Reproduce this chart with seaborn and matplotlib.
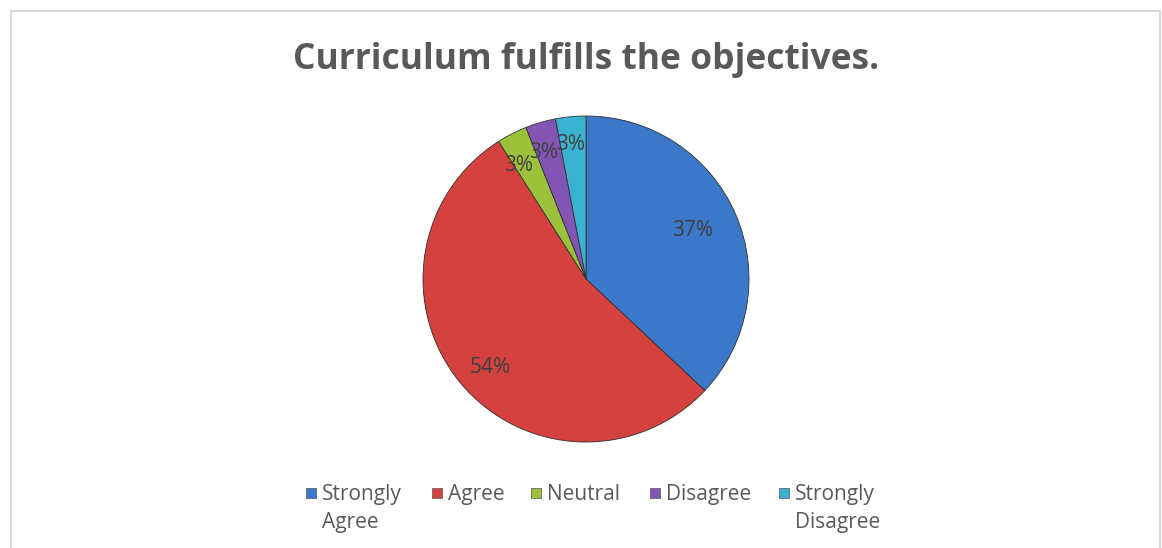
import matplotlib
matplotlib.use("Agg")
import matplotlib.pyplot as plt
import matplotlib.patches as mpatches
import numpy as np
import seaborn as sns

sns.set_theme(style="white")
plt.rcParams["font.family"] = ["Open Sans", "DejaVu Sans"]

# data
categories = ["Strongly\nAgree", "Agree", "Neutral", "Disagree", "Strongly\nDisagree"]
shares = [37, 54, 3, 3, 3]
colors = ["#3b78c9", "#d4413f", "#9cc23c", "#8255b5", "#3bb3d0"]

W, H = 1162, 548
fig = plt.figure(figsize=(W / 100, H / 100), dpi=100)
fig.patch.set_facecolor("white")

# light frame of the chart area
frame = mpatches.Rectangle((11 / W, -0.01), (1160 - 11) / W, 1 - 11 / H + 0.01,
                           transform=fig.transFigure, fill=False,
                           edgecolor="#d9d9d9", linewidth=1.5)
fig.add_artist(frame)

cx, cy, r = 586, 279, 163
ax = fig.add_axes([(cx - r) / W, (H - cy - r) / H, 2 * r / W, 2 * r / H])
wedges, _ = ax.pie(shares, colors=colors, startangle=90, counterclock=False,
                   wedgeprops={"edgecolor": "#303030", "linewidth": 0.6})
ax.set_xlim(-1, 1); ax.set_ylim(-1, 1)
ax.set_aspect("equal")
ax.axis("off")

# percent labels, roughly where Excel's best-fit put them
total = sum(shares)
dists = [0.72, 0.80, 0.81, 0.82, 0.83]
shift = [1.2, 3.2, 3.8, 2.2, 1.0]   # degrees
for w, v, d, s in zip(wedges, shares, dists, shift):
    ang = np.deg2rad((w.theta1 + w.theta2) / 2 + s)
    ax.text(d * np.cos(ang), d * np.sin(ang), f"{v / total * 100:.0f}%",
            ha="center", va="center", fontsize=15, color="#404040")

fig.text(0.504, 1 - 60 / H, "Curriculum fulfills the objectives.", ha="center",
         va="center", fontsize=25.5, fontweight="bold", color="#595959")

# legend, built by hand so the handle sits on the first line
leg_x = [306, 432, 531, 650, 779]
leg_y = 493
for x, lab, c in zip(leg_x, categories, colors):
    sq = mpatches.Rectangle((x / W, (H - leg_y - 5) / H), 10 / W, 10 / H,
                            transform=fig.transFigure, facecolor=c,
                            edgecolor="#555555", linewidth=0.5)
    fig.add_artist(sq)
    fig.text((x + 16) / W, 1 - (leg_y - 9) / H, lab, ha="left", va="top",
             fontsize=15, color="#595959", linespacing=1.45)

fig.savefig("out.png", dpi=100, facecolor="white")
